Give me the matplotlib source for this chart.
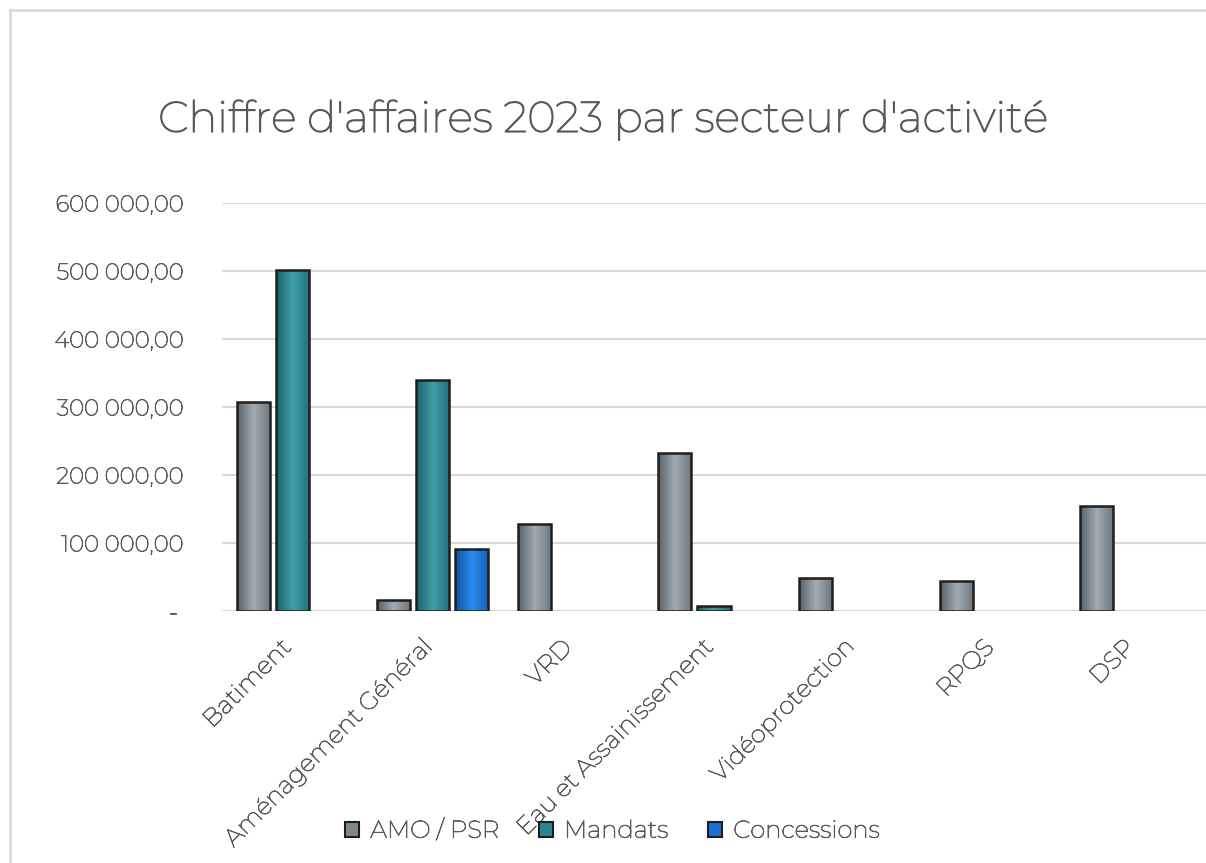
import numpy as np
import matplotlib
matplotlib.use("Agg")
import matplotlib.pyplot as plt
import matplotlib.patheffects as pe
import matplotlib.transforms as mtrans
from matplotlib.patches import Patch, Rectangle
from matplotlib.colors import LinearSegmentedColormap

categories = ["Batiment", "Aménagement Général", "VRD", "Eau et Assainissement",
              "Vidéoprotection", "RPQS", "DSP"]
series_names = ["AMO / PSR", "Mandats", "Concessions"]
amo = [307000, 16000, 128000, 232000, 49000, 44000, 154000]
mandats = [501000, 340000, 0, 7000, 0, 0, 0]
concessions = [0, 91000, 0, 0, 0, 0, 0]
yticks = [0, 100000, 200000, 300000, 400000, 500000, 600000]

FONT = ["Montserrat", "DejaVu Sans"]
TXT = "#595959"
THICK = [pe.withStroke(linewidth=0.55, foreground=TXT)]
base_cols = ["#7d878e", "#2b8590", "#1a6fd0"]
grad_cols = [("#5a6268", "#a1abb1", "#6d767c"),
             ("#1c5f68", "#3fa0aa", "#236f79"),
             ("#11519c", "#2b8cf0", "#1560b8")]

fig = plt.figure(figsize=(12.06, 8.63), dpi=100)
fig.patches.append(Rectangle((10/1206, -0.1), 1.2, (1 - 10/863) + 0.1, transform=fig.transFigure,
                             fill=False, edgecolor="#d9d9d9", lw=2, zorder=0))
ax = fig.add_axes([222/1206, 1 - 611/863, 984/1206, (611 - 203)/863])

x = np.arange(len(categories))
w = 0.235
step = 0.278
for i, (vals, name) in enumerate(zip([amo, mandats, concessions], series_names)):
    bars = ax.bar(x + (i - 1) * step, vals, width=w, color=base_cols[i],
                  edgecolor="none", linewidth=0, zorder=3, label=name)
    cmap = LinearSegmentedColormap.from_list("g%d" % i, list(grad_cols[i]))
    grad = np.linspace(0, 1, 64).reshape(1, -1)
    for r in bars:
        h = r.get_height()
        if h <= 0:
            r.set_visible(False)
            continue
        x0 = r.get_x()
        im = ax.imshow(grad, cmap=cmap, extent=[x0, x0 + r.get_width(), 0, h],
                       aspect="auto", zorder=3.5, interpolation="bicubic")
        im.set_clip_path(r)
        ax.add_patch(Rectangle((x0, 0), r.get_width(), h, fill=False,
                               edgecolor="#1e1e1e", lw=1.8, zorder=4))

ax.set_xlim(-0.5, len(categories) - 0.5)
ax.set_ylim(0, 600000)
ax.set_yticks(yticks)

def fmt(v):
    if v == 0:
        return "- "
    return "{:,.2f}".format(v).replace(",", " ").replace(".", ",")

ax.set_yticklabels([fmt(v) for v in yticks], family=FONT, fontsize=16.5, color=TXT,
                   path_effects=THICK)
ax.tick_params(axis="y", length=0, pad=28)
ax.tick_params(axis="x", length=0, pad=8)
ax.set_xticks(x)
ax.set_xticklabels(categories, rotation=45, ha="right", va="top",
                   rotation_mode="anchor", family=FONT, fontsize=17.5, color=TXT,
                   path_effects=THICK)
off = mtrans.ScaledTranslation(-0.13, -0.14, fig.dpi_scale_trans)
for lab in ax.get_xticklabels():
    lab.set_transform(lab.get_transform() + off)
ax.grid(axis="y", color="#d9d9d9", lw=1.5, zorder=0)
ax.set_axisbelow(True)
for s in ax.spines.values():
    s.set_visible(False)

fig.text(603/1206, 1 - 120/863, "Chiffre d'affaires 2023 par secteur d'activité",
         ha="center", va="center", family=FONT, fontsize=31, color=TXT,
         path_effects=[pe.withStroke(linewidth=0.9, foreground=TXT)])

handles = [Patch(facecolor=base_cols[i], edgecolor="#1e1e1e", lw=1.5) for i in range(3)]
leg = fig.legend(handles, series_names, loc="center", bbox_to_anchor=(612/1206, 1 - 831/863),
                 ncol=3, frameon=False, prop={"family": FONT, "size": 17.5},
                 labelcolor=TXT, handlelength=0.58, handleheight=0.58, columnspacing=1.65,
                 handletextpad=0.45)
for t in leg.get_texts():
    t.set_path_effects(THICK)

fig.savefig("out.png", dpi=100)
